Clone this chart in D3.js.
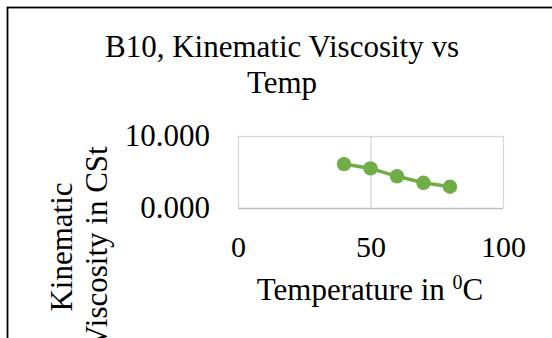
<!DOCTYPE html>
<html>
<head>
  <script src="https://cdn.jsdelivr.net/npm/d3@7"></script>
  <style>
    body { margin: 0; background: #fff; }
    text { font-family: "Liberation Serif", "Times New Roman", serif; fill: #000; }
  </style>
</head>
<body>
  <svg width="552" height="338" id="chart"></svg>
  <script>
    // values
    const temps = [40, 50, 60, 70, 80];
    const viscosity = [6.1, 5.5, 4.4, 3.5, 2.95];
    const xTicks = [0, 50, 100];
    const yTicks = [0, 10];
    const titleLines = ['B10, Kinematic Viscosity vs', 'Temp'];
    const yTitleLines = ['Kinematic', 'Viscosity in CSt'];

    const svg = d3.select('#chart');
    const plot = { left: 238, right: 503, top: 136, bottom: 208 };

    // chart border (runs off the right and bottom edges)
    svg.append('rect')
      .attr('x', 7.5).attr('y', 7.5)
      .attr('width', 600).attr('height', 400)
      .attr('fill', '#fff')
      .attr('stroke', '#000')
      .attr('stroke-width', 1.8);

    const xScale = d3.scaleLinear().domain([0, 100]).range([plot.left, plot.right]);
    const yScale = d3.scaleLinear().domain([0, 10]).range([plot.bottom, plot.top]);

    // gridlines
    const grid = svg.append('g');
    grid.append('g')
      .attr('transform', `translate(0, ${plot.bottom})`)
      .call(d3.axisBottom(xScale).tickValues(xTicks).tickSize(-(plot.bottom - plot.top)).tickFormat(''))
      .call(g => g.select('.domain').remove())
      .call(g => g.selectAll('line').attr('stroke', '#d9d9d9').attr('stroke-width', 1.3));
    grid.append('g')
      .attr('transform', `translate(${plot.left}, 0)`)
      .call(d3.axisLeft(yScale).tickValues(yTicks).tickSize(-(plot.right - plot.left)).tickFormat(''))
      .call(g => g.select('.domain').remove())
      .call(g => g.selectAll('line').attr('stroke', d => d === 0 ? '#bfbfbf' : '#d9d9d9').attr('stroke-width', 1.3));

    // tick labels
    const yAxisG = svg.append('g')
      .attr('transform', `translate(${plot.left}, 0)`)
      .call(d3.axisLeft(yScale).tickValues(yTicks).tickSize(0).tickPadding(28).tickFormat(d3.format('.3f')));
    yAxisG.select('.domain').remove();
    yAxisG.selectAll('text').attr('font-size', '31px').attr('font-family', null);

    const xAxisG = svg.append('g')
      .attr('transform', `translate(0, ${plot.bottom})`)
      .call(d3.axisBottom(xScale).tickValues(xTicks).tickSize(0).tickPadding(28).tickFormat(d3.format('d')));
    xAxisG.select('.domain').remove();
    xAxisG.selectAll('text').attr('font-size', '30px').attr('font-family', null);

    // series
    const pts = temps.map((t, i) => ({ x: t, y: viscosity[i] }));
    svg.append('path')
      .datum(pts)
      .attr('fill', 'none')
      .attr('stroke', '#70ad47')
      .attr('stroke-width', 3.5)
      .attr('d', d3.line().x(d => xScale(d.x)).y(d => yScale(d.y)));
    svg.selectAll('.dot').data(pts).join('circle')
      .attr('class', 'dot')
      .attr('cx', d => xScale(d.x))
      .attr('cy', d => yScale(d.y))
      .attr('r', 7.2)
      .attr('fill', '#70ad47');

    // title
    svg.append('text')
      .attr('text-anchor', 'middle')
      .attr('font-size', '31px')
      .selectAll('tspan').data(titleLines).join('tspan')
      .attr('x', 282)
      .attr('y', (d, i) => 57 + i * 36)
      .text(d => d);

    // x axis title
    const xt = svg.append('text')
      .attr('x', 370).attr('y', 300)
      .attr('text-anchor', 'middle')
      .attr('font-size', '31px');
    xt.append('tspan').text('Temperature in ');
    xt.append('tspan').attr('font-size', '20px').attr('dy', -11).text('0');
    xt.append('tspan').attr('dy', 11).text('C');

    // y axis title
    svg.append('g')
      .attr('transform', 'translate(0, 247) rotate(-90)')
      .append('text')
      .attr('text-anchor', 'middle')
      .attr('font-size', '31px')
      .selectAll('tspan').data(yTitleLines).join('tspan')
      .attr('x', 0)
      .attr('y', (d, i) => 72 + i * 35)
      .text(d => d);
  </script>
</body>
</html>
